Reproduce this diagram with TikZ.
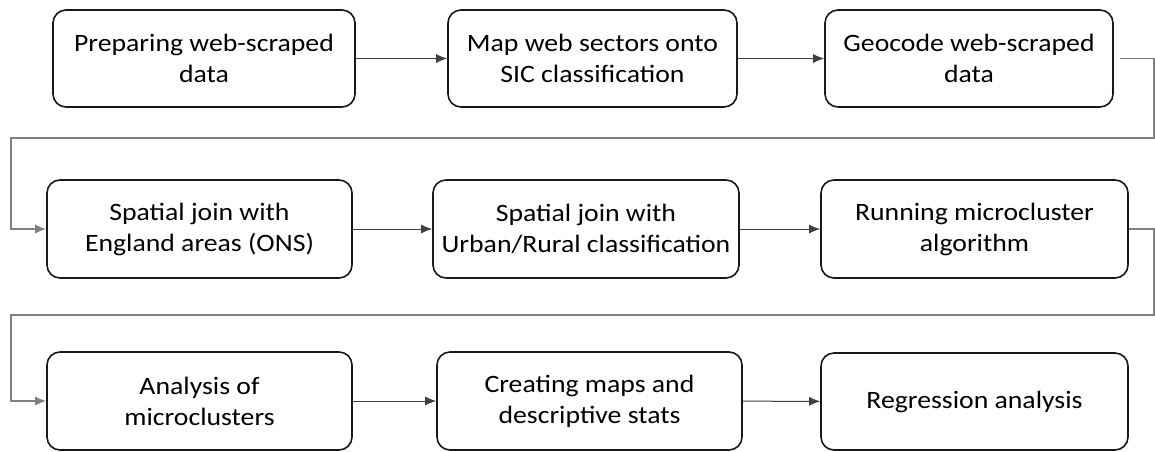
\documentclass[tikz,border=0pt]{standalone}
\usepackage{fontspec}
\setmainfont{Carlito}[FakeStretch=1.11]
\usetikzlibrary{arrows.meta}
\begin{document}
\begin{tikzpicture}[x=1pt,y=-1pt,
  stepbox/.style={draw=black!90, line width=1.6pt, rounded corners=13pt, align=center,
    inner sep=0pt, font=\fontsize{25}{31}\selectfont, text=black},
  flow/.style={draw=black!75, line width=1pt, -{Latex[length=11pt,width=9pt]}},
  wrap/.style={draw=black!50, line width=1.3pt, -{Latex[length=11pt,width=9pt]}, rounded corners=0pt}]
\useasboundingbox (0,0) rectangle (1155,451);
\fill[white] (0,0) rectangle (1155,451);
% row 1
\node[stepbox, minimum width=302pt, minimum height=97pt] (b1) at (204,58.5) {Preparing web-scraped\\data};
\node[stepbox, minimum width=289pt, minimum height=97pt] (b2) at (592.5,58.5) {Map web sectors onto\\SIC classification};
\node[stepbox, minimum width=288pt, minimum height=97pt] (b3) at (969,58.5) {Geocode web-scraped\\data};
% row 2
\node[stepbox, minimum width=305pt, minimum height=98pt] (b4) at (199.5,229) {Spatial join with\\England areas (ONS)};
\node[stepbox, minimum width=306pt, minimum height=98pt] (b5) at (586,229) {Spatial join with\\Urban/Rural classification};
\node[stepbox, minimum width=307pt, minimum height=98pt] (b6) at (974.5,229) {Running microcluster\\algorithm};
% row 3
\node[stepbox, minimum width=305pt, minimum height=98pt] (b7) at (199.5,401) {Analysis of\\microclusters};
\node[stepbox, minimum width=305pt, minimum height=98pt] (b8) at (589.5,401) {Creating maps and\\descriptive stats};
\node[stepbox, minimum width=307pt, minimum height=97pt] (b9) at (974.5,401.5) {Regression analysis};
% connectors
\draw[flow] (b1) -- (b2);
\draw[flow] (b2) -- (b3);
\draw[flow] (b4) -- (b5);
\draw[flow] (b5) -- (b6);
\draw[flow] (b7) -- (b8);
\draw[flow] (b8) -- (b9);
\coordinate (r1) at (1154,138);
\coordinate (l1) at (11,138);
\coordinate (r2) at (1154,315);
\coordinate (l2) at (11,315);
\draw[wrap] ([xshift=6pt]b3.east) -| (r1) -- (l1) |- (b4.west);
\draw[wrap] (b6.east) -| (r2) -- (l2) |- (b7.west);
\end{tikzpicture}
\end{document}
